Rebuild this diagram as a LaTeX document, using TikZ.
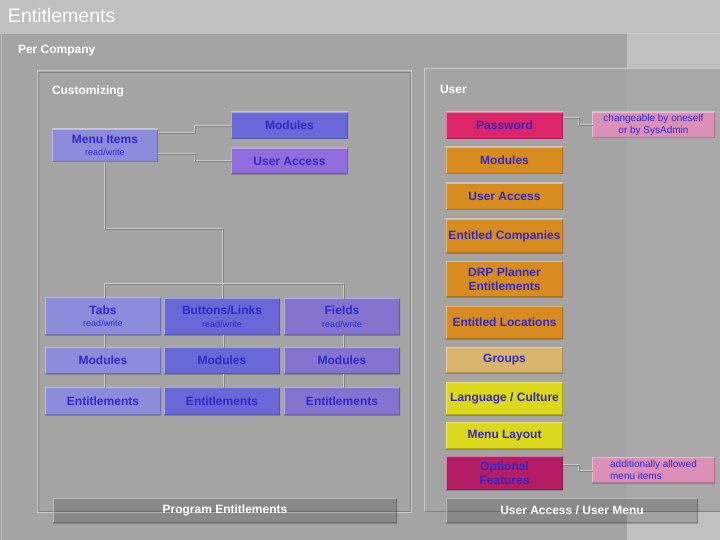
\documentclass[tikz,border=0pt]{standalone}
\usepackage{fontspec}
\setmainfont{Liberation Sans}
\definecolor{txt}{RGB}{48,40,200}
\definecolor{bgtop}{RGB}{192,192,192}
\definecolor{panel}{RGB}{164,164,164}
\definecolor{lightln}{RGB}{204,204,204}
\definecolor{darkln}{RGB}{130,130,130}
\definecolor{cA}{RGB}{140,140,220}
\definecolor{cB}{RGB}{104,104,216}
\definecolor{cC}{RGB}{132,116,208}
\definecolor{cUA}{RGB}{144,108,220}
\definecolor{cPW}{RGB}{220,36,104}
\definecolor{cOR}{RGB}{216,140,32}
\definecolor{cGR}{RGB}{216,180,108}
\definecolor{cYE}{RGB}{220,216,28}
\definecolor{cOP}{RGB}{180,28,100}
\definecolor{cNT}{RGB}{220,144,184}
\newcommand\dline[1]{\draw[lightln,line width=1pt] #1; \draw[darkln,line width=1pt,transform canvas={xshift=1pt,yshift=-1pt}] #1;}
\newcommand\rwfont{\fontsize{9}{10}\selectfont\mdseries}
\begin{document}
\begin{tikzpicture}[x=1pt,y=-1pt,
 every node/.style={inner sep=0pt,outer sep=0pt},
 bevel/.style={path picture={
   \draw[white,opacity=.4,line width=2.2pt] (path picture bounding box.south west) -- (path picture bounding box.north west) -- (path picture bounding box.north east);
   \draw[black,opacity=.2,line width=2.2pt] (path picture bounding box.north east) -- (path picture bounding box.south east) -- (path picture bounding box.south west);}},
 box/.style={bevel, rectangle, minimum width=117pt, minimum height=27pt, align=center, text=txt, font=\fontsize{12}{14.5}\selectfont\bfseries},
 note/.style={bevel, rectangle, fill=cNT, minimum width=123pt, minimum height=26pt, text=txt, font=\fontsize{10}{11.5}\selectfont},
 heading/.style={anchor=west, text=white, font=\fontsize{12}{14}\selectfont\bfseries},
 bar/.style={bevel, rectangle, fill=black, fill opacity=.16, text opacity=1, minimum height=25pt, text=white, font=\fontsize{12}{14}\selectfont\bfseries}
]
\useasboundingbox (0,0) rectangle (720,540);
% backgrounds
\fill[bgtop] (0,0) rectangle (720,540);
\fill[panel] (0,33) rectangle (627,540);
\draw[lightln,line width=1.2pt] (0,33.5) -- (720,33.5);
\draw[lightln!60!panel,line width=1pt] (1,540) -- (1,34) -- (627,34);
% user panel
\fill[panel,opacity=.85] (424,69) rectangle (720,511);
\draw[lightln,line width=1pt] (424,511) -- (424,69) -- (720,69);
\draw[darkln,line width=1pt] (425,511) -- (720,511);
% customizing panel
\draw[lightln,line width=1pt] (37,71) rectangle (411,512);
\draw[darkln,line width=.8pt] (38,72) -- (38,511) -- (410,511) -- (410,72) -- cycle;
% titles
\node[anchor=west,text=white,font=\fontsize{19.5}{22}\selectfont] (title) at (8,16) {Entitlements};
\node[heading] (hpc) at (18,51) {Per Company};
\node[heading] (hcu) at (52,91) {Customizing};
\node[heading] (hus) at (440,89) {User};
% customizing nodes
\node[box,fill=cA,minimum width=106pt,minimum height=33pt] (mi) at (105,145.5) {Menu Items\\[-2pt]{\rwfont read/write}};
\node[box,fill=cB] (mod1) at (289.5,125.5) {Modules};
\node[box,fill=cUA] (ua1) at (289.5,161) {User Access};
\node[box,fill=cA,minimum width=116pt,minimum height=38pt] (tabs) at (103,316) {Tabs\\[-2pt]{\rwfont read/write}};
\node[box,fill=cB,minimum width=116pt,minimum height=37pt] (btn) at (222,316.5) {Buttons/Links\\[-2pt]{\rwfont read/write}};
\node[box,fill=cC,minimum width=116pt,minimum height=37pt] (fld) at (342,316.5) {Fields\\[-2pt]{\rwfont read/write}};
\node[box,fill=cA,minimum width=116pt] (tmod) at (103,360.5) {Modules};
\node[box,fill=cB,minimum width=116pt] (bmod) at (222,360.5) {Modules};
\node[box,fill=cC,minimum width=116pt] (fmod) at (342,360.5) {Modules};
\node[box,fill=cA,minimum width=116pt,minimum height=28pt] (tent) at (103,401) {Entitlements};
\node[box,fill=cB,minimum width=116pt,minimum height=28pt] (bent) at (222,401) {Entitlements};
\node[box,fill=cC,minimum width=116pt,minimum height=28pt] (fent) at (342,401) {Entitlements};
% user nodes
\node[box,fill=cPW] (pw) at (504.5,125.5) {Password};
\node[box,fill=cOR] (umod) at (504.5,160.5) {Modules};
\node[box,fill=cOR] (uua) at (504.5,196.5) {User Access};
\node[box,fill=cOR,minimum height=34pt] (ecomp) at (504.5,236) {Entitled Companies};
\node[box,fill=cOR,minimum height=36pt] (drp) at (504.5,279) {DRP Planner\\Entitlements};
\node[box,fill=cOR,minimum height=33pt] (eloc) at (504.5,322.5) {Entitled Locations};
\node[box,fill=cGR,minimum height=26pt] (grp) at (504.5,360) {Groups};
\node[box,fill=cYE,minimum height=33pt] (lang) at (504.5,398.5) {Language / Culture};
\node[box,fill=cYE] (ml) at (504.5,435.5) {Menu Layout};
\node[box,fill=cOP,minimum height=34pt] (opt) at (504.5,473) {Optional\\Features};
\node[note,align=center] (n1) at (653.5,125) {changeable by oneself\\or by SysAdmin};
\node[note,align=left] (n2) at (653.5,470) {additionally allowed\\menu items};
% bars
\node[bar,minimum width=344pt] (pe) at (225,510.5) {Program Entitlements};
\node[bar,minimum width=252pt] (uam) at (572,510.5) {User Access / User Menu};
% connectors
\coordinate (j1) at (104,229);
\coordinate (j2) at (222,229);
\coordinate (j3) at (222,283);
\dline{([yshift=12.5pt]mi.east) -- ++(36,0) |- (mod1.west)}
\dline{([yshift=-8.5pt]mi.east) -- ++(36,0) |- (ua1.west)}
\dline{([xshift=-1pt]mi.south) -- ([xshift=-1pt]mi.south |- j1) -- (j2) -- (j3)}
\dline{([xshift=1pt]tabs.north) -- ([xshift=1pt]tabs.north |- j3) -- ([xshift=1pt]fld.north |- j3) -- ([xshift=1pt]fld.north)}
\dline{(j3) -- (btn.north)}
\dline{([xshift=1pt]tabs.south) -- ([xshift=1pt]tmod.north)}
\dline{([xshift=1pt]tmod.south) -- ([xshift=1pt]tent.north)}
\dline{([xshift=1pt]btn.south) -- ([xshift=1pt]bmod.north)}
\dline{([xshift=1pt]bmod.south) -- ([xshift=1pt]bent.north)}
\dline{([xshift=1pt]fld.south) -- ([xshift=1pt]fmod.north)}
\dline{([xshift=1pt]fmod.south) -- ([xshift=1pt]fent.north)}
\dline{([yshift=7.5pt]pw.east) -- ++(15,0) |- (n1.west)}
\dline{([yshift=9pt]opt.east) -- ++(15,0) |- (n2.west)}
\end{tikzpicture}
\end{document}
